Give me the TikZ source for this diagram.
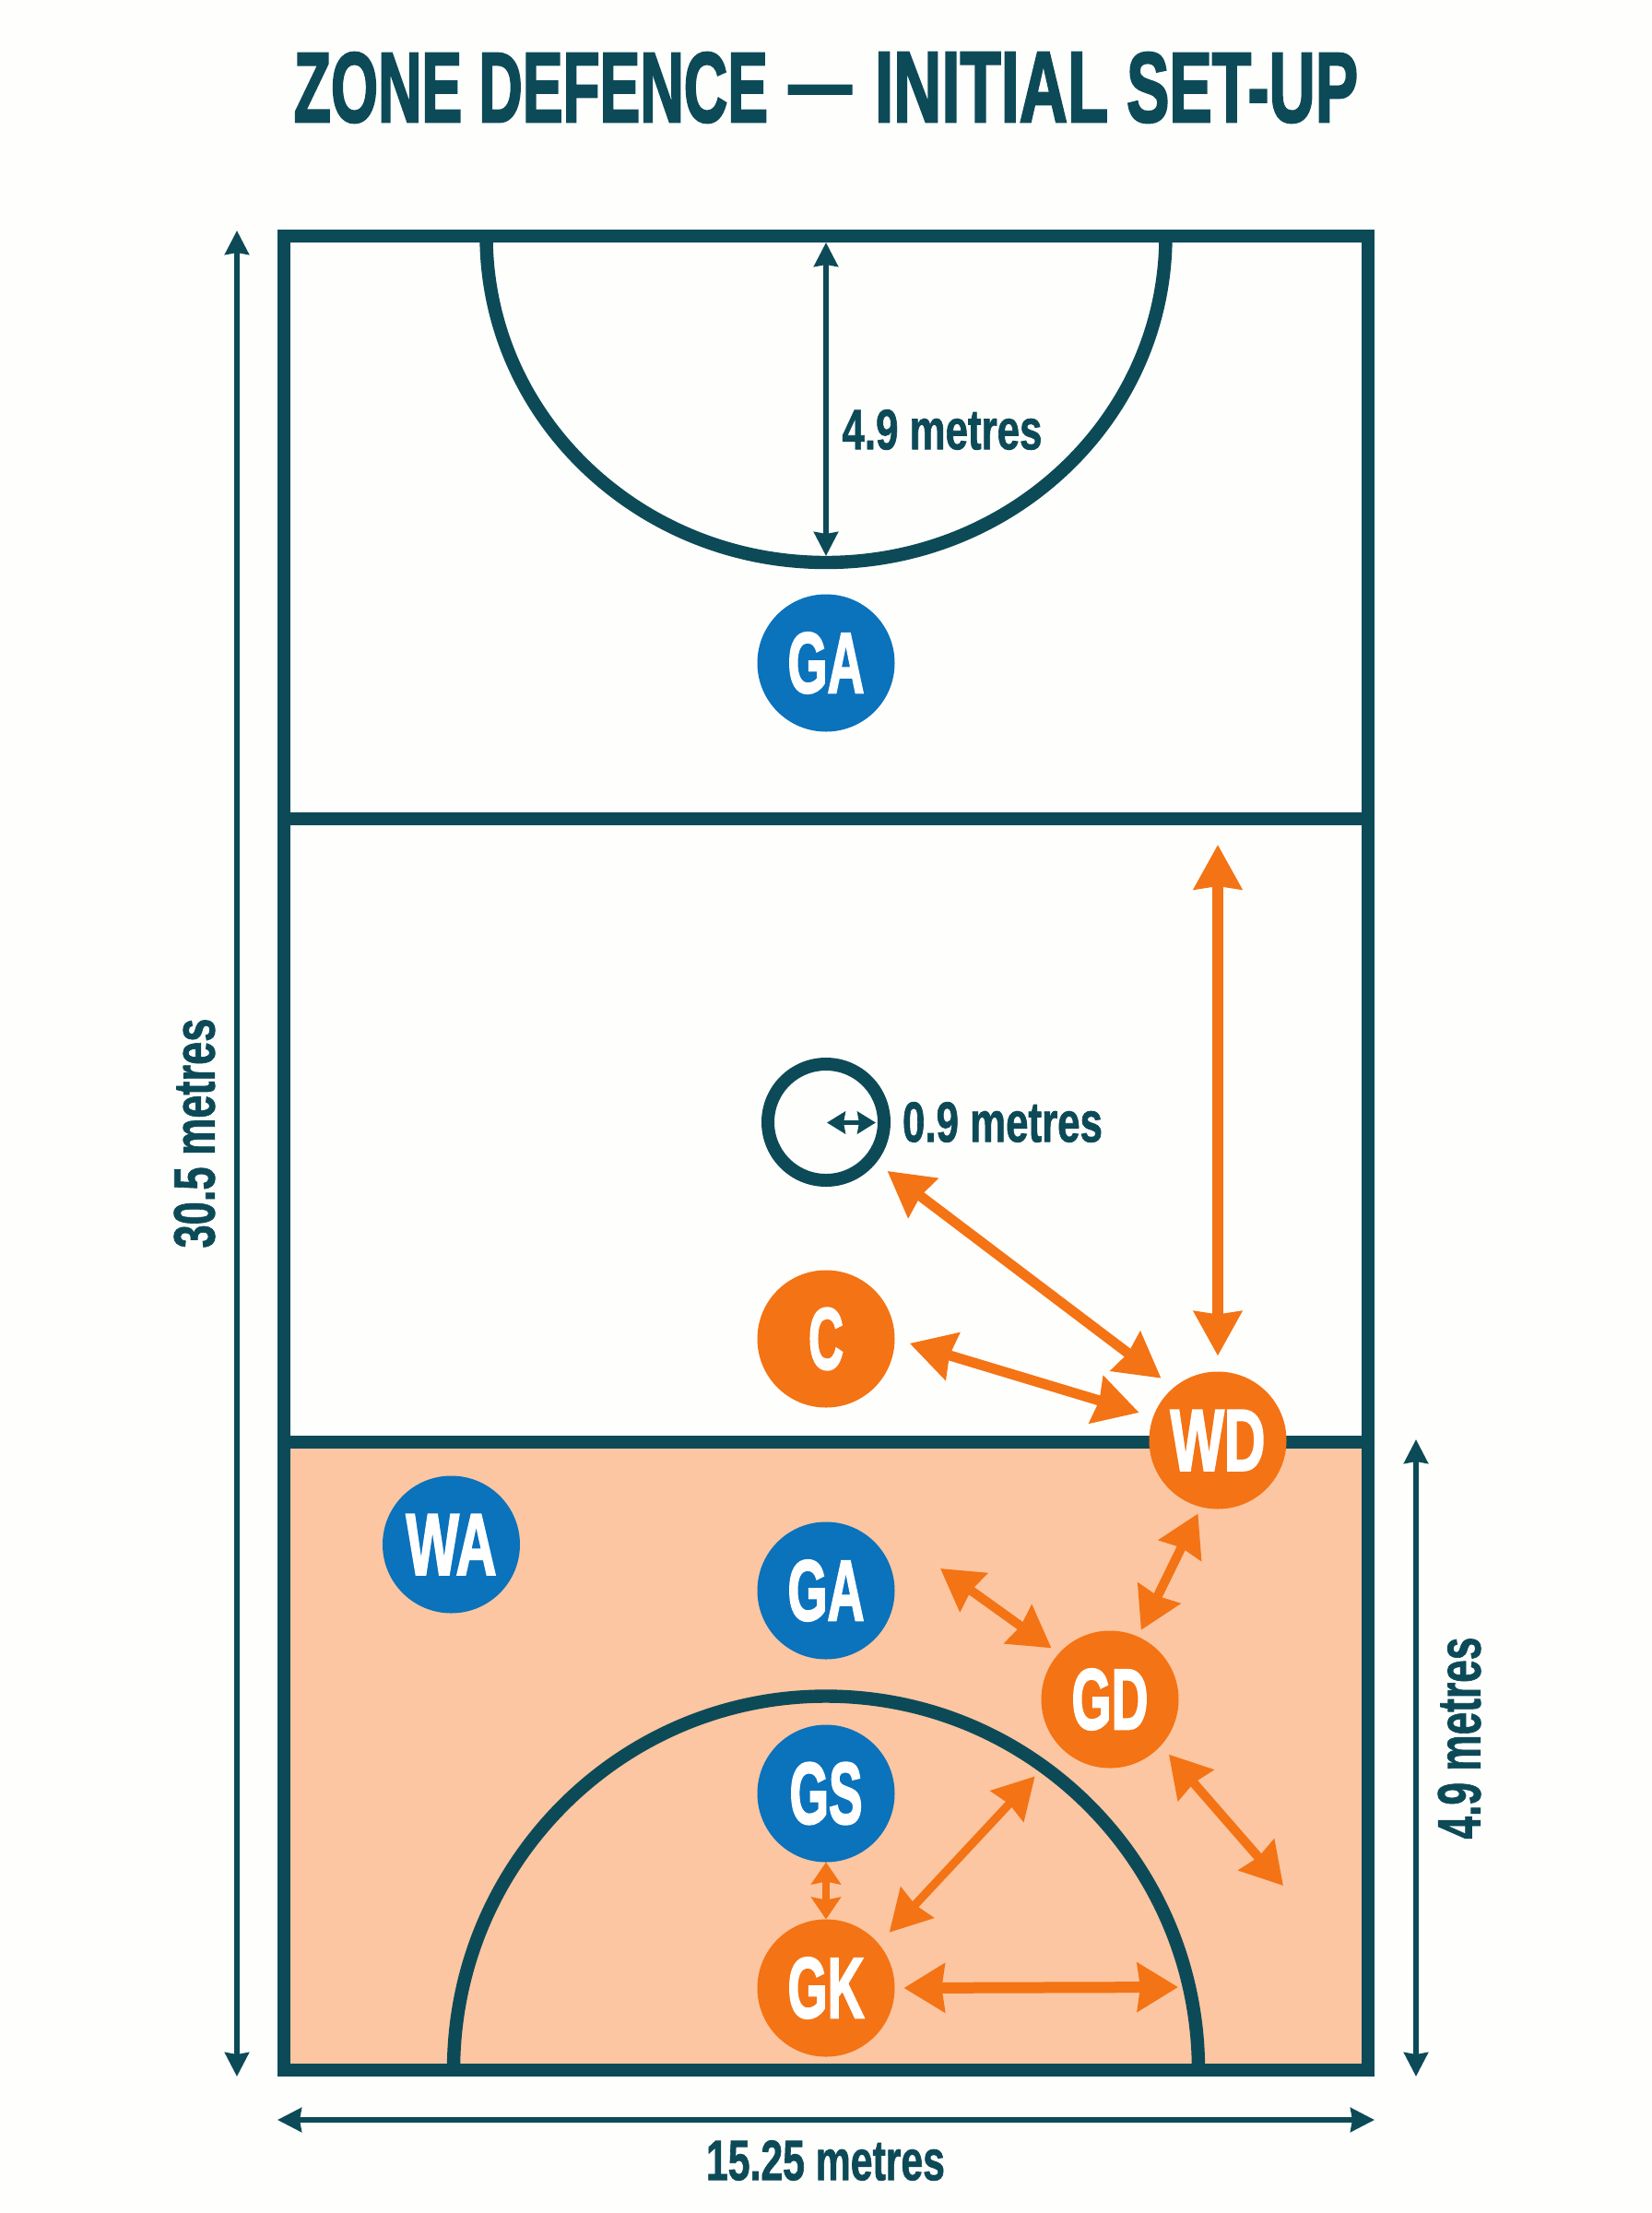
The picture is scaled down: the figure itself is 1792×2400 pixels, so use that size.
\documentclass[tikz,border=0pt]{standalone}
\usepackage{graphicx}
\usepackage{fontspec}
\usetikzlibrary{arrows.meta}
\newfontfamily\labfont[FakeBold=1.4]{Liberation Sans Bold}
\newfontfamily\headfont[FakeBold=2.6]{Liberation Sans Bold}
\definecolor{courtteal}{HTML}{0D4A58}
\definecolor{bluep}{HTML}{0B72BC}
\definecolor{orangep}{HTML}{F47314}
\definecolor{zonefill}{HTML}{FBC6A1}
\definecolor{paper}{HTML}{FEFEFC}
% width and height in reference pixels
\newcommand{\fitbox}[3]{\resizebox{\dimexpr #1pt/2\relax}{\dimexpr #2pt/2\relax}{\labfont #3}}
\newcommand{\fithead}[3]{\resizebox{\dimexpr #1pt/2\relax}{\dimexpr #2pt/2\relax}{\headfont #3}}
\tikzset{
  courtline/.style={draw=courtteal,line width=7.2pt,line join=miter},
  dimline/.style={draw=courtteal,line width=2.7pt,{Stealth[length=13pt,width=13pt,inset=1pt]}-{Stealth[length=13pt,width=13pt,inset=1pt]}},
  player/.style={circle,minimum size=74.5pt,inner sep=0pt,outer sep=0pt,text=white},
  attack/.style={player,fill=bluep},
  defend/.style={player,fill=orangep},
  dimtext/.style={text=courtteal,inner sep=0pt,outer sep=0pt},
  movearrow/.style={draw=orangep,line width=#1pt},
  movehead/.style n args={2}{{Stealth[length=#1pt,width=#2pt,inset=1.5pt]}-{Stealth[length=#1pt,width=#2pt,inset=1.5pt]}},
}
\begin{document}
\begin{tikzpicture}[x=0.5pt,y=-0.5pt]
\useasboundingbox (0,0) rectangle (1792,2400);
\fill[paper] (0,0) rectangle (1792,2400);
% zone and court
\fill[zonefill] (308,1564) rectangle (1484,2245);
\draw[courtline] (308,888) -- (1484,888);
\draw[courtline] (308,1564) -- (1484,1564);
\draw[courtline] (527.5,256) .. controls (527.5,451.5) and (692.5,610) .. (896,610)
  .. controls (1099.5,610) and (1264.5,451.5) .. (1264.5,256);
\draw[courtline] (492,2245) .. controls (492,2021.3) and (672.9,1839.5) .. (896,1839.5)
  .. controls (1119.1,1839.5) and (1300,2021.3) .. (1300,2245);
\draw[courtline] (308,256) rectangle (1484,2245);
% title
\node[dimtext] (title) at (896,95) {\fithead{514}{75}{ZONE DEFENCE}\hspace{11pt}\raisebox{4pt}{\scalebox{3.45}[5]{\labfont —}}\hspace{12.5pt}\fithead{253}{75}{INITIAL}\hspace{10pt}\fithead{251}{75}{SET-UP}};
% centre circle
\node[circle,draw=courtteal,line width=7pt,minimum size=63pt,inner sep=0pt,outer sep=0pt] (centre) at (896,1217) {};
% players
\node[attack] (GAtop) at (896,719) {\fithead{83}{65}{GA}};
\node[defend] (C) at (896,1452) {\fithead{38}{66}{C}};
\node[defend] (WD) at (1321,1562) {\fithead{103}{65}{WD}};
\node[attack] (WA) at (489.5,1675) {\fithead{98}{65}{WA}};
\node[attack] (GA) at (896,1725) {\fithead{83}{65}{GA}};
\node[defend] (GD) at (1204,1843) {\fithead{83}{65}{GD}};
\node[attack] (GS) at (896,1945) {\fithead{79}{66}{GS}};
\node[defend] (GK) at (896,2156) {\fithead{83}{65}{GK}};
% free ends
\coordinate (lenTopA) at (257,250);
\coordinate (lenBotA) at (257,2252);
\coordinate (widL) at (301,2299);
\coordinate (widR) at (1491,2299);
\coordinate (zoneTop) at (1536,1561);
\coordinate (zoneBot) at (1536,2252);
\coordinate (arcTop) at (896,263);
\coordinate (arcBot) at (896,603);
\coordinate (radA) at (897,1217.5);
\coordinate (radB) at (950,1217.5);
\coordinate (wdUp) at (1321,916);
\coordinate (gaSide) at (1020,1701);
\coordinate (gdFree) at (1392,2045);
\coordinate (gkFree) at (1278,2155);
% dimensions
\draw[dimline] (lenTopA) -- (lenBotA);
\draw[dimline] (widL) -- (widR);
\draw[dimline] (zoneTop) -- (zoneBot);
\draw[dimline] (arcTop) -- (arcBot);
\draw[draw=courtteal,line width=2.7pt,{Stealth[length=10pt,width=12pt,inset=1pt]}-{Stealth[length=10pt,width=12pt,inset=1pt]}] (radA) -- (radB);
% dimension labels
\node[dimtext] (l49a) at (1022,466) {\fitbox{217}{43}{4.9 metres}};
\node[dimtext] (l09) at (1087.5,1217) {\fitbox{217}{43}{0.9 metres}};
\node[dimtext] (l305) at (211,1229) {\rotatebox{90}{\fitbox{249}{44}{30.5 metres}}};
\node[dimtext] (l49b) at (1583,1885) {\rotatebox{90}{\fitbox{219}{46}{4.9 metres}}};
\node[dimtext] (l1525) at (895.5,2343) {\fitbox{259}{43}{15.25 metres}};
% movement arrows
\draw[movearrow=6,movehead={24}{25.5},shorten >=8.5pt] (wdUp) -- (WD.north);
\draw[movearrow=5.5,movehead={24}{26},shorten <=11pt,shorten >=8.5pt] (centre.-39.3) -- (WD.130.5);
\draw[movearrow=5.5,movehead={24}{26},shorten <=8.5pt,shorten >=8pt] (C.east) -- (WD.160.6);
\draw[movearrow=5,movehead={22}{25},shorten <=4pt,shorten >=4pt] (WD.-104) -- (GD.66);
\draw[movearrow=5,movehead={22}{25},shorten >=5pt] (gaSide) -- (GD.138);
\draw[movearrow=5,movehead={22}{25},shorten <=6.5pt] (GD.-42.7) -- (gdFree);
\draw[movearrow=4.5,movehead={22}{24},shorten <=8.5pt,shorten >=21pt] (GK.40.5) -- (GD.225);
\draw[movearrow=4,movehead={12}{16}] (GS.south) -- (GK.north);
\draw[movearrow=6,movehead={22}{26},shorten <=5pt] (GK.east) -- (gkFree);
\end{tikzpicture}
\end{document}
